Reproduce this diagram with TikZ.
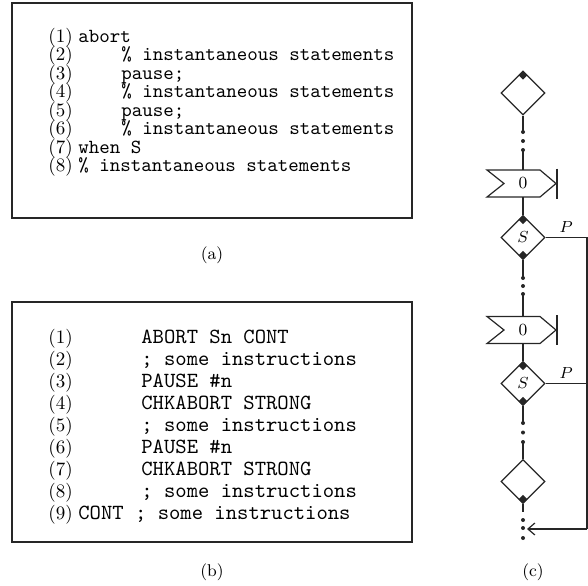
\documentclass[tikz,border=0pt]{standalone}
\usepackage[rgb]{xcolor}
\usepackage{tikz}
\usetikzlibrary{shapes.geometric,arrows.meta}

\tikzset{
 codeframe/.style={draw=black!85, line width=1.2pt},
 lineno/.style={anchor=base west, inner sep=0pt, font=\fontsize{9.5}{10}\selectfont},
 codea/.style={anchor=base west, inner sep=0pt, font=\fontsize{10}{11}\ttfamily},
 codeb/.style={anchor=base west, inner sep=0pt, font=\fontsize{10.8}{12}\ttfamily},
 caption/.style={font=\fontsize{8.5}{9}\selectfont},
 flowline/.style={draw=black!85, line width=0.6pt},
 choice/.style={diamond, draw=black!85, line width=0.6pt, minimum width=22pt, minimum height=22pt, inner sep=0pt, aspect=1, font=\fontsize{8.5}{9}\selectfont},
 knob/.style={diamond, fill=black!85, minimum width=4.5pt, minimum height=4.5pt, inner sep=0pt},
 waitbox/.style={minimum height=13.5pt, minimum width=20pt, inner sep=0pt, outer sep=0pt, font=\fontsize{8.5}{9}\selectfont},
 plabel/.style={above=2pt, inner sep=0pt, font=\fontsize{8.5}{9}\selectfont},
}

\begin{document}
\begin{tikzpicture}[x=0.5pt, y=-0.5pt]
\useasboundingbox (0,0) rectangle (588,585);

% (a) source program
\draw[codeframe] (12,3) rectangle (412,218);
\foreach \n/\code/\xx in {1/{abort}/78, 2/{\% instantaneous statements}/121, 3/{pause;}/121,
  4/{\% instantaneous statements}/121, 5/{pause;}/121, 6/{\% instantaneous statements}/121,
  7/{when S}/78, 8/{\% instantaneous statements}/78}
 {
 \node[lineno] (numa\n) at (48, 42+18.5*\n-18.5) {(\n)};
 \node[codea] (codea\n) at (\xx, 42+18.5*\n-18.5) {\code};
 }
\node[caption] (capa) at (212,255) {(a)};

% (b) compiled code
\draw[codeframe] (12,302) rectangle (412,542);
\foreach \n/\code/\xx in {1/{ABORT Sn CONT}/141, 2/{; some instructions}/141, 3/{PAUSE \#n}/141,
  4/{CHKABORT STRONG}/141, 5/{; some instructions}/141, 6/{PAUSE \#n}/141,
  7/{CHKABORT STRONG}/141, 8/{; some instructions}/141, 9/{CONT ; some instructions}/78}
 {
 \node[lineno] (numb\n) at (48, 343+22*\n-22) {(\n)};
 \node[codeb] (codeb\n) at (\xx, 343+22*\n-22) {\code};
 }
\node[caption] (capb) at (212,572) {(b)};

% (c) flow chart
\node[choice] (startd) at (523,93) {};
\node[waitbox] (wait1) at (523,183.5) {0};
\node[choice] (test1) at (523,237.5) {$S$};
\node[waitbox] (wait2) at (523,330) {0};
\node[choice] (test2) at (523,383.5) {$S$};
\node[choice] (endd) at (523,481.5) {};

\node[knob, anchor=north] (startk) at (startd.north) {};
\node[knob, anchor=north] (test1k) at (test1.north) {};
\node[knob, anchor=south] (test1j) at (test1.south) {};
\node[knob, anchor=north] (test2k) at (test2.north) {};
\node[knob, anchor=south] (test2j) at (test2.south) {};
\node[knob, anchor=south] (enddj) at (endd.south) {};

\foreach \w in {wait1, wait2}
 {
 \draw[flowline, shift={(\w.center)}] (-36,-13.5) -- (17,-13.5) -- (33,0) -- (17,13.5)
   -- (-36,13.5) -- (-19,0) -- cycle;
 \draw[flowline, shift={(\w.center)}] (34,-15) -- (34,15);
 }

%% dotted gaps
\coordinate (gap1a) at (523,132);
\coordinate (gap1b) at (523,150);
\coordinate (gap2a) at (523,278);
\coordinate (gap2b) at (523,294);
\coordinate (gap3a) at (523,423);
\coordinate (gap3b) at (523,442);
\coordinate (gap4a) at (523,512);
\foreach \yy in {132,141,150, 278,286,294, 423,432.5,442, 520,528,538}
 \fill[black!85] (523,\yy) circle [radius=2];

\draw[flowline] (startd.south) -- (gap1a);
\draw[flowline] (gap1b) -- (wait1.north);
\draw[flowline] (wait1.south) -- (test1.north);
\draw[flowline] (test1.south) -- (gap2a);
\draw[flowline] (gap2b) -- (wait2.north);
\draw[flowline] (wait2.south) -- (test2.north);
\draw[flowline] (test2.south) -- (gap3a);
\draw[flowline] (gap3b) -- (endd.north);
\draw[flowline] (endd.south) -- (gap4a);

%% preemption branch
\coordinate (railtop) at (587,237.5);
\coordinate (railmid) at (587,383.5);
\coordinate (railbot) at (587,529);
\coordinate (loopin) at (527,529);
\draw[flowline] (test1.east) -- node[plabel] (p1) {$P$} (railtop) -- (railbot);
\draw[flowline] (test2.east) -- node[plabel] (p2) {$P$} (railmid);
\draw[flowline, -{Straight Barb[length=3.5pt, width=6pt]}] (railbot) -- (loopin);

\node[caption] (capc) at (533,572) {(c)};
\end{tikzpicture}
\end{document}
